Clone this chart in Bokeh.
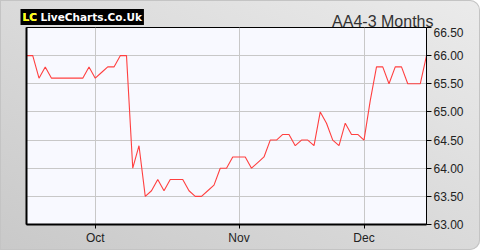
from bokeh.plotting import figure
from bokeh.layouts import column
from bokeh.models import Range1d, FixedTicker, LinearAxis, Label, NumeralTickFormatter
from bokeh.embed import file_html
from bokeh.resources import INLINE

# ---- data ----
prices = [66.0, 66.0, 65.6, 65.8, 65.6, 65.6, 65.6, 65.6, 65.6, 65.6,
          65.8, 65.6, 65.7, 65.8, 65.8, 66.0, 66.0, 64.0, 64.4, 63.5,
          63.6, 63.8, 63.6, 63.8, 63.8, 63.8, 63.6, 63.5, 63.5, 63.6,
          63.7, 64.0, 64.0, 64.2, 64.2, 64.2, 64.0, 64.1, 64.2, 64.5,
          64.5, 64.6, 64.6, 64.4, 64.5, 64.5, 64.4, 65.0, 64.8, 64.5,
          64.4, 64.8, 64.6, 64.6, 64.5, 65.2, 65.8, 65.8, 65.5, 65.8,
          65.8, 65.5, 65.5, 65.5, 66.0]
day_index = list(range(len(prices)))
month_ticks = [11, 34, 54]
month_labels = ["Oct", "Nov", "Dec"]
y_ticks = [63.0, 63.5, 64.0, 64.5, 65.0, 65.5, 66.0, 66.5]
title_text = "AA4-3 Months"
logo_mark = "LC"
logo_text = "LiveCharts.Co.Uk"

W = 480
HEAD_H = 30
OVERLAP = 3
MAIN_H = 223

# ---- header strip (title + logo), pixel-like coordinates ----
head = figure(width=W, height=HEAD_H, output_backend="svg", toolbar_location=None,
              title=None, x_range=Range1d(0, W), y_range=Range1d(HEAD_H, 0),
              min_border_left=0, min_border_right=0, min_border_top=0, min_border_bottom=0,
              x_axis_location=None, y_axis_location=None)
head.frame_align = False
head.styles = {"margin-bottom": f"-{OVERLAP}px"}
head.border_fill_color = None
head.background_fill_color = None
head.outline_line_color = None
head.grid.visible = False

head.add_layout(Label(x=433, y=21, text=title_text,
                      text_align="right", text_baseline="alphabetic",
                      text_font="Liberation Sans", text_font_size="16px",
                      text_color="#333333"))
head.add_layout(Label(x=20, y=16.5, text=logo_mark + " " + logo_text,
                      text_align="left", text_baseline="middle",
                      text_font="DejaVu Sans", text_font_style="bold", text_font_size="10.5px",
                      text_color="#ffffff", background_fill_color="#000000",
                      padding=2))
head.add_layout(Label(x=20, y=16.5, text=logo_mark,
                      text_align="left", text_baseline="middle",
                      text_font="DejaVu Sans", text_font_style="bold", text_font_size="10.5px",
                      text_color="#ffff00", padding=2))

# ---- main chart ----
p = figure(width=W, height=MAIN_H, output_backend="svg", toolbar_location=None,
           title=None, x_range=Range1d(0, len(prices) - 1), y_range=Range1d(63.0, 66.5),
           min_border_left=26, min_border_right=54, min_border_top=0, min_border_bottom=26,
           y_axis_location=None, x_axis_location=None)
p.frame_align = False
p.border_fill_color = None
p.background_fill_color = "#f8f9ff"
p.outline_line_color = "#000000"
p.outline_line_width = 1

xaxis = LinearAxis(ticker=FixedTicker(ticks=month_ticks),
                   major_label_overrides={t: l for t, l in zip(month_ticks, month_labels)})
xaxis.major_tick_in = 0
xaxis.major_tick_out = 4
xaxis.minor_tick_line_color = None
xaxis.axis_line_color = "#000000"
xaxis.axis_line_width = 2
xaxis.major_label_text_font = "Liberation Sans"
xaxis.major_label_text_font_size = "12px"
xaxis.major_label_text_color = "#222222"
xaxis.major_label_standoff = 2
p.add_layout(xaxis, "below")

yaxis = LinearAxis(ticker=FixedTicker(ticks=y_ticks), formatter=NumeralTickFormatter(format="0.00"))
yaxis.major_tick_in = 0
yaxis.major_tick_out = 5
yaxis.minor_tick_line_color = None
yaxis.axis_line_color = "#000000"
yaxis.major_label_text_font = "Liberation Sans"
yaxis.major_label_text_font_size = "12px"
yaxis.major_label_text_color = "#222222"
yaxis.major_label_standoff = 2
p.add_layout(yaxis, "right")

laxis = LinearAxis(ticker=FixedTicker(ticks=[]))
laxis.axis_line_color = "#000000"
laxis.axis_line_width = 2
laxis.major_label_text_font_size = "0px"
laxis.major_tick_line_color = None
laxis.minor_tick_line_color = None
p.add_layout(laxis, "left")

p.xgrid.ticker = FixedTicker(ticks=month_ticks)
p.ygrid.ticker = FixedTicker(ticks=y_ticks)
p.xgrid.grid_line_color = "#c8c8c8"
p.ygrid.grid_line_color = "#c8c8c8"

p.line(day_index, prices, line_color="#ff4040", line_width=1.1)

layout = column(head, p, spacing=0)
layout.styles = {"background": "linear-gradient(to top right, #c9c9c9, #ebebeb)",
                 "border-radius": "0 10px 10px 0",
                 "box-shadow": "inset 0 0 0 1px #c4c4c4"}

open("out.html", "w").write(file_html(layout, INLINE))
